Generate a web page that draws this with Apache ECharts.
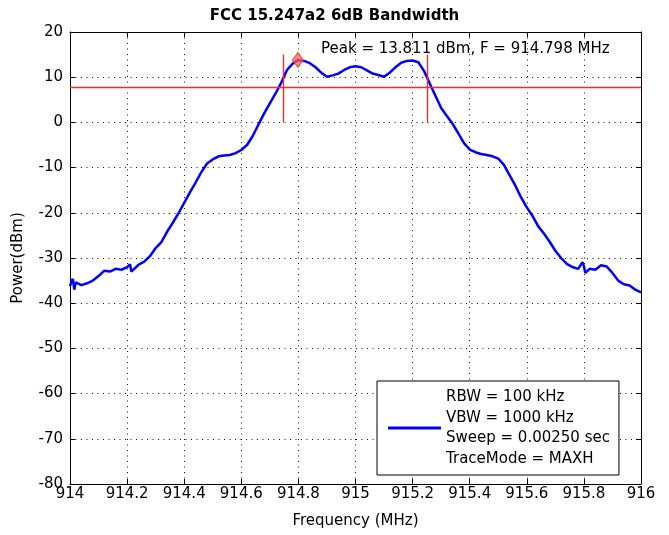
<!DOCTYPE html>
<html>
<head>
<meta charset="utf-8">
<script src="https://cdn.jsdelivr.net/npm/echarts@6/dist/echarts.min.js"></script>
<style>
  html, body { margin: 0; padding: 0; background: #fff; }
  #chart { width: 669px; height: 535px; }
</style>
</head>
<body>
<div id="chart"></div>
<script>
// trace (MHz, dBm)
var freqs = [
  914.00, 914.005, 914.01, 914.015, 914.02, 914.04, 914.06, 914.08, 914.10, 914.12,
  914.14, 914.16, 914.18, 914.20, 914.21, 914.215, 914.22, 914.24, 914.26, 914.28,
  914.30, 914.32, 914.34, 914.36, 914.38, 914.40, 914.42, 914.44, 914.46, 914.48,
  914.50, 914.52, 914.54, 914.56, 914.58, 914.60, 914.62, 914.64, 914.66, 914.68,
  914.70, 914.72, 914.74, 914.76, 914.78, 914.798, 914.82, 914.84, 914.86, 914.88,
  914.90, 914.92, 914.94, 914.96, 914.98, 915.00, 915.02, 915.04, 915.06, 915.08,
  915.10, 915.12, 915.14, 915.16, 915.18, 915.20, 915.22, 915.24, 915.26, 915.28,
  915.30, 915.32, 915.34, 915.36, 915.38, 915.40, 915.42, 915.44, 915.46, 915.48,
  915.50, 915.52, 915.54, 915.56, 915.58, 915.60, 915.62, 915.64, 915.66, 915.68,
  915.70, 915.72, 915.74, 915.76, 915.78, 915.795, 915.80, 915.805, 915.82, 915.84,
  915.86, 915.88, 915.90, 915.92, 915.94, 915.96, 915.98, 916.00
];
var power = [
  -36.2, -35.2, -34.6, -37.0, -35.4, -36.0, -35.6, -35.0, -34.0, -32.8,
  -33.0, -32.4, -32.6, -32.0, -31.4, -33.0, -32.6, -31.5, -30.8, -29.6,
  -27.8, -26.5, -24.2, -22.2, -20.1, -17.8, -15.5, -13.3, -11.0, -9.1,
  -8.2, -7.5, -7.3, -7.2, -6.8, -6.1, -5.0, -3.0, -0.5, 2.0,
  4.2, 6.4, 8.8, 11.6, 13.0, 13.811, 13.6, 13.1, 12.2, 11.0,
  10.1, 10.4, 10.8, 11.6, 12.2, 12.4, 12.2, 11.5, 10.8, 10.5,
  10.1, 11.0, 12.2, 13.2, 13.6, 13.7, 13.3, 11.4, 8.6, 5.9,
  3.2, 1.4, -0.3, -2.4, -4.6, -6.0, -6.6, -7.0, -7.2, -7.5,
  -8.0, -9.4, -11.7, -14.0, -16.6, -18.8, -20.7, -23.0, -24.6, -26.4,
  -28.4, -30.0, -31.3, -32.0, -32.4, -30.9, -31.8, -33.3, -32.4, -32.6,
  -31.6, -31.9, -33.3, -35.0, -35.8, -36.1, -37.0, -37.6
];
var peak = [914.798, 13.811];
var bwEdges = [914.747, 915.253];
var edgeTop = 15;
var threshold = peak[1] - 6;
var legendText = ['RBW = 100 kHz', 'VBW = 1000 kHz', 'Sweep = 0.00250 sec', 'TraceMode = MAXH'];

var font = 'DejaVu Sans';
var red = 'rgb(255,40,40)';

var chart = echarts.init(document.getElementById('chart'));

var frameAxis = {
  axisLine: { show: true, onZero: false, lineStyle: { color: '#000', width: 1 } },
  axisTick: { show: true, inside: true, length: 5, lineStyle: { color: '#000' } },
  splitLine: { show: false },
  axisLabel: { show: false }
};

chart.setOption({
  animation: false,
  title: [{
    text: 'FCC 15.247a2 6dB Bandwidth',
    left: 'center',
    top: 4,
    textStyle: { fontFamily: font, fontSize: 15, fontWeight: 'bold', color: '#000' }
  }, {
    text: 'Peak = ' + peak[1] + ' dBm, F = ' + peak[0] + ' MHz',
    left: 316,
    top: 37,
    textStyle: { fontFamily: font, fontSize: 15, fontWeight: 'normal', color: '#000' }
  }],
  grid: { left: 70, right: 28, top: 32, bottom: 51 },
  legend: {
    left: 377,
    top: 381,
    orient: 'vertical',
    backgroundColor: '#fff',
    borderColor: '#000',
    borderWidth: 1,
    borderRadius: 0,
    padding: [6, 9, 6, 11],
    icon: 'rect',
    itemWidth: 53,
    itemHeight: 3,
    textStyle: { fontFamily: font, fontSize: 15, lineHeight: 20.5, color: '#000' },
    data: [legendText.join('\n')]
  },
  xAxis: [{
    type: 'value',
    position: 'bottom',
    min: 914,
    max: 916,
    interval: 0.2,
    axisLine: { show: true, onZero: false, lineStyle: { color: '#000', width: 1 } },
    axisTick: { show: true, inside: true, length: 5, lineStyle: { color: '#000' } },
    axisLabel: {
      color: '#000', fontFamily: font, fontSize: 15, margin: 3,
      formatter: function (v) { return String(+v.toFixed(1)); }
    },
    splitLine: { show: true, lineStyle: { color: '#111', type: [1, 4.5], width: 1 } },
    name: 'Frequency (MHz)',
    nameLocation: 'middle',
    nameGap: 30,
    nameTextStyle: { fontFamily: font, fontSize: 15, color: '#000' }
  }, Object.assign({ type: 'value', position: 'top', min: 914, max: 916, interval: 0.2 }, frameAxis)],
  yAxis: [{
    type: 'value',
    position: 'left',
    min: -80,
    max: 20,
    interval: 10,
    axisLine: { show: true, onZero: false, lineStyle: { color: '#000', width: 1 } },
    axisTick: { show: true, inside: true, length: 5, lineStyle: { color: '#000' } },
    axisLabel: { color: '#000', fontFamily: font, fontSize: 15, margin: 7 },
    splitLine: { show: true, lineStyle: { color: '#111', type: [1, 4.5], width: 1 } },
    name: 'Power(dBm)',
    nameLocation: 'middle',
    nameGap: 44,
    nameTextStyle: { fontFamily: font, fontSize: 15, color: '#000' }
  }, Object.assign({ type: 'value', position: 'right', min: -80, max: 20, interval: 10 }, frameAxis)],
  series: [{
    name: legendText.join('\n'),
    type: 'line',
    symbol: 'none',
    z: 3,
    data: freqs.map(function (f, i) { return [f, power[i]]; }),
    lineStyle: { color: '#0000ff', width: 2.5 },
    itemStyle: { color: '#0000ff' },
    markLine: {
      silent: true,
      symbol: 'none',
      label: { show: false },
      lineStyle: { color: red, width: 1.4, type: 'solid' },
      data: [
        { yAxis: threshold },
        [{ coord: [bwEdges[0], 0] }, { coord: [bwEdges[0], edgeTop] }],
        [{ coord: [bwEdges[1], 0] }, { coord: [bwEdges[1], edgeTop] }]
      ]
    },
    markPoint: {
      silent: true,
      symbol: 'diamond',
      symbolSize: [11, 15],
      label: { show: false },
      itemStyle: { color: 'rgba(255,90,90,0.75)', borderColor: 'rgba(255,60,60,0.9)', borderWidth: 1 },
      data: [{ coord: peak }]
    }
  }]
});
</script>
</body>
</html>
